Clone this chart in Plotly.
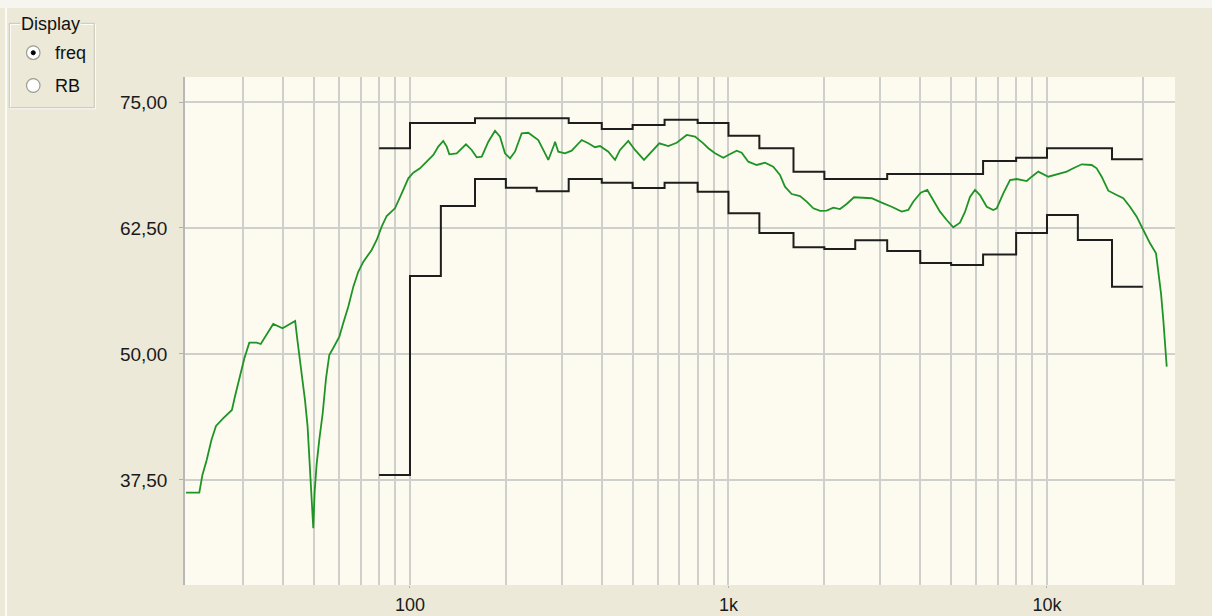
import plotly.graph_objects as go

# ---------------- data ----------------
resp_freq = [19.8, 21.8, 22.3, 23.0, 23.8, 24.6, 25.9, 27.6, 28.2, 29.1, 30.2, 31.3, 33.0, 34.0,
             35.6, 37.2, 39.8, 41.5, 43.6, 44.3, 45.4, 46.8, 47.7, 48.3, 48.9, 49.5, 49.7, 50.2,
             50.9, 51.9, 53.2, 54.5, 55.8, 58.1, 60.0, 61.7, 64.0, 66.4, 68.8, 71.4, 75.8, 78.6,
             81.5, 84.5, 89.7, 94.2, 98.8, 102.4, 107.5, 112.8, 118.4, 122.7, 127.2, 130.4, 132.9,
             140.2, 149.9, 156.2, 162.0, 168.0, 176.2, 184.9, 191.7, 198.7, 206.1, 213.6, 224.2,
             235.2, 252.8, 262.1, 271.8, 283.3, 285.4, 292.2, 306.7, 321.9, 346.0, 362.9, 380.9,
             395.0, 419.5, 440.3, 456.5, 484.7, 508.7, 542.9, 567.0, 606.4, 647.1, 687.8, 739.4,
             785.0, 833.6, 864.3, 907.2, 963.2, 998.6, 1061, 1100, 1154, 1226, 1302, 1382, 1451,
             1504, 1579, 1677, 1760, 1847, 1939, 2034, 2134, 2239, 2350, 2477, 2650, 2815, 3027,
             3253, 3497, 3668, 3803, 4013, 4209, 4395, 4614, 4843, 5079, 5331, 5527, 5730, 5941,
             6160, 6468, 6783, 6953, 7292, 7653, 8033, 8638, 8954, 9391, 10095, 10728, 11533,
             12096, 12853, 13812, 14320, 14849, 15574, 16548, 17360, 18220, 19124, 20065, 21059,
             21991, 22363, 22802, 23185, 23475, 23763]
resp_db = [36.24, 36.24, 38.00, 39.48, 41.47, 42.86, 43.62, 44.44, 45.76, 47.59, 49.57, 51.12,
           51.12, 50.99, 52.05, 52.98, 52.55, 52.88, 53.27, 51.39, 48.91, 45.44, 42.79, 39.81,
           37.00, 34.20, 32.71, 36.34, 38.99, 41.47, 44.12, 47.59, 49.90, 50.89, 51.72, 53.05,
           54.69, 56.68, 58.16, 59.16, 60.32, 61.31, 62.63, 63.69, 64.45, 65.94, 67.43, 67.99,
           68.42, 69.08, 69.74, 70.57, 71.13, 70.57, 69.81, 69.91, 70.80, 70.24, 69.51, 69.57,
           71.06, 72.15, 71.56, 69.91, 69.41, 70.07, 71.89, 71.95, 71.23, 70.24, 69.25, 70.73,
           71.06, 70.07, 69.91, 70.17, 71.23, 70.90, 70.51, 70.63, 70.07, 69.25, 70.24, 71.13,
           70.24, 69.25, 69.91, 70.90, 70.63, 70.96, 71.73, 71.56, 70.90, 70.41, 69.91, 69.47,
           69.74, 70.17, 69.97, 69.08, 68.75, 68.98, 68.58, 67.76, 66.60, 65.87, 65.67, 65.11,
           64.45, 64.19, 64.22, 64.51, 64.38, 64.88, 65.55, 65.51, 65.45, 65.01, 64.61, 64.12,
           64.29, 65.11, 66.00, 66.27, 65.28, 64.12, 63.29, 62.57, 63.03, 64.09, 65.58, 66.27,
           65.77, 64.61, 64.29, 64.45, 65.94, 67.26, 67.36, 67.16, 67.59, 68.09, 67.59, 67.83,
           68.09, 68.42, 68.82, 68.75, 68.42, 67.59, 66.20, 65.77, 65.45, 64.61, 63.62, 62.30,
           60.98, 59.99, 58.01, 56.02, 53.37, 51.39, 48.74]

band_freq = [80, 100, 125, 160, 200, 250, 315, 400, 500, 630, 800, 1000, 1250, 1600, 2000,
             2500, 3150, 4000, 5000, 6300, 8000, 10000, 12500, 16000, 20000]
upper_db = [70.41, 72.92, 72.92, 73.38, 73.38, 73.38, 72.92, 72.32, 72.72, 73.24, 72.92, 71.66,
            70.41, 68.09, 67.36, 67.36, 67.86, 67.86, 67.86, 69.15, 69.47, 70.41, 70.41, 69.32]
lower_db = [38.00, 57.74, 64.68, 67.36, 66.50, 66.14, 67.36, 66.99, 66.47, 66.99, 66.10, 63.96,
            62.00, 60.59, 60.42, 61.28, 60.22, 59.03, 58.83, 59.87, 62.00, 63.79, 61.31, 56.68]

y_ticks = [37.5, 50.0, 62.5, 75.0]
y_tick_text = ["37,50", "50,00", "62,50", "75,00"]
x_ticks = [100, 1000, 10000]
x_tick_text = ["100", "1k", "10k"]
x_minor = [30, 40, 50, 60, 70, 80, 90, 200, 300, 400, 500, 600, 700, 800, 900,
           2000, 3000, 4000, 5000, 6000, 7000, 8000, 9000, 20000]

# ---------------- figure ----------------
W, H = 1212, 616
L, R, T, B = 185, 1175, 77, 585

fig = go.Figure()
fig.add_trace(go.Scatter(x=band_freq, y=upper_db + [upper_db[-1]], mode="lines",
                         line=dict(color="#1e1e1e", width=2, shape="hv"), hoverinfo="skip"))
fig.add_trace(go.Scatter(x=band_freq, y=lower_db + [lower_db[-1]], mode="lines",
                         line=dict(color="#1e1e1e", width=2, shape="hv"), hoverinfo="skip"))
fig.add_trace(go.Scatter(x=resp_freq, y=resp_db, mode="lines",
                         line=dict(color="#1f9426", width=1.8), hoverinfo="skip"))

grid = "#cfcfcc"
font = dict(family="Liberation Sans, Arial, sans-serif", size=19, color="#1a1a1a")

fig.update_layout(
    width=W, height=H,
    margin=dict(l=L, r=W - R, t=T, b=H - B, pad=0, autoexpand=False),
    paper_bgcolor="#ece9d8",
    plot_bgcolor="#fdfbef",
    showlegend=False,
    font=font,
    xaxis=dict(type="log", range=[1.2936, 4.4019], automargin=False,
               tickmode="array", tickvals=x_ticks, ticktext=x_tick_text,
               tickfont=dict(size=18),
               showgrid=True, gridcolor=grid, gridwidth=1.5,
               ticks="outside", ticklen=2, tickcolor="#b0b0b0",
               minor=dict(tickmode="array", tickvals=x_minor, showgrid=True,
                          gridcolor=grid, gridwidth=1.5, ticks=""),
               showline=False, zeroline=False, ticklabelstandoff=1),
    yaxis=dict(range=[27.08, 77.48], automargin=False,
               tickmode="array", tickvals=y_ticks, ticktext=y_tick_text,
               showgrid=True, gridcolor=grid, gridwidth=1.5,
               ticks="outside", ticklen=4, tickcolor="#b0b0b0",
               showline=True, linecolor="#b8b8b8", linewidth=1.5,
               zeroline=False, ticklabelstandoff=8),
)

# ---- window chrome and "Display" group box (pixel positioned -> paper coords) ----
def px(xp):
    return (xp - L) / (R - L)

def py(yp):
    return (B - yp) / (B - T)

shapes = []
shapes.append(dict(type="rect", xref="paper", yref="paper",
                   x0=px(0), x1=px(W), y0=py(8), y1=py(0),
                   line=dict(width=0), fillcolor="#f6f5ef", layer="below"))
shapes.append(dict(type="line", xref="paper", yref="paper",
                   x0=px(6), x1=px(6), y0=py(8), y1=py(H),
                   line=dict(color="#fbfaf5", width=2), layer="below"))
shapes.append(dict(type="rect", xref="paper", yref="paper",
                   x0=px(10.3), x1=px(95.3), y0=py(24.3), y1=py(108.7),
                   line=dict(color="#ffffff", width=1), fillcolor="rgba(0,0,0,0)", layer="above"))
shapes.append(dict(type="rect", xref="paper", yref="paper",
                   x0=px(9.3), x1=px(94.3), y0=py(23.3), y1=py(107.7),
                   line=dict(color="#c8c6b8", width=1), fillcolor="rgba(0,0,0,0)", layer="above"))
for cy in (52.7, 85.5):
    shapes.append(dict(type="circle", xref="paper", yref="paper",
                       x0=px(26.5), x1=px(40), y0=py(cy - 6.8), y1=py(cy + 6.8),
                       line=dict(color="#9c9c94", width=1.2), fillcolor="#ffffff", layer="above"))
shapes.append(dict(type="circle", xref="paper", yref="paper",
                   x0=px(31.2), x1=px(35.3), y0=py(50.7), y1=py(54.8),
                   line=dict(color="#000000", width=1), fillcolor="#000000", layer="above"))
fig.update_layout(shapes=shapes)

small = dict(family="Liberation Sans, Arial, sans-serif", size=18, color="#111111")
fig.add_annotation(xref="paper", yref="paper", x=px(20), y=py(24), text="Display",
                   showarrow=False, xanchor="left", yanchor="middle", font=small,
                   bgcolor="#ece9d8", borderpad=0)
fig.add_annotation(xref="paper", yref="paper", x=px(53), y=py(53), text="freq",
                   showarrow=False, xanchor="left", yanchor="middle", font=small)
fig.add_annotation(xref="paper", yref="paper", x=px(53), y=py(86), text="RB",
                   showarrow=False, xanchor="left", yanchor="middle", font=small)

fig.write_html("out.html", config={"displayModeBar": False},
               post_script="document.body.style.margin='0';document.body.style.padding='0';")
